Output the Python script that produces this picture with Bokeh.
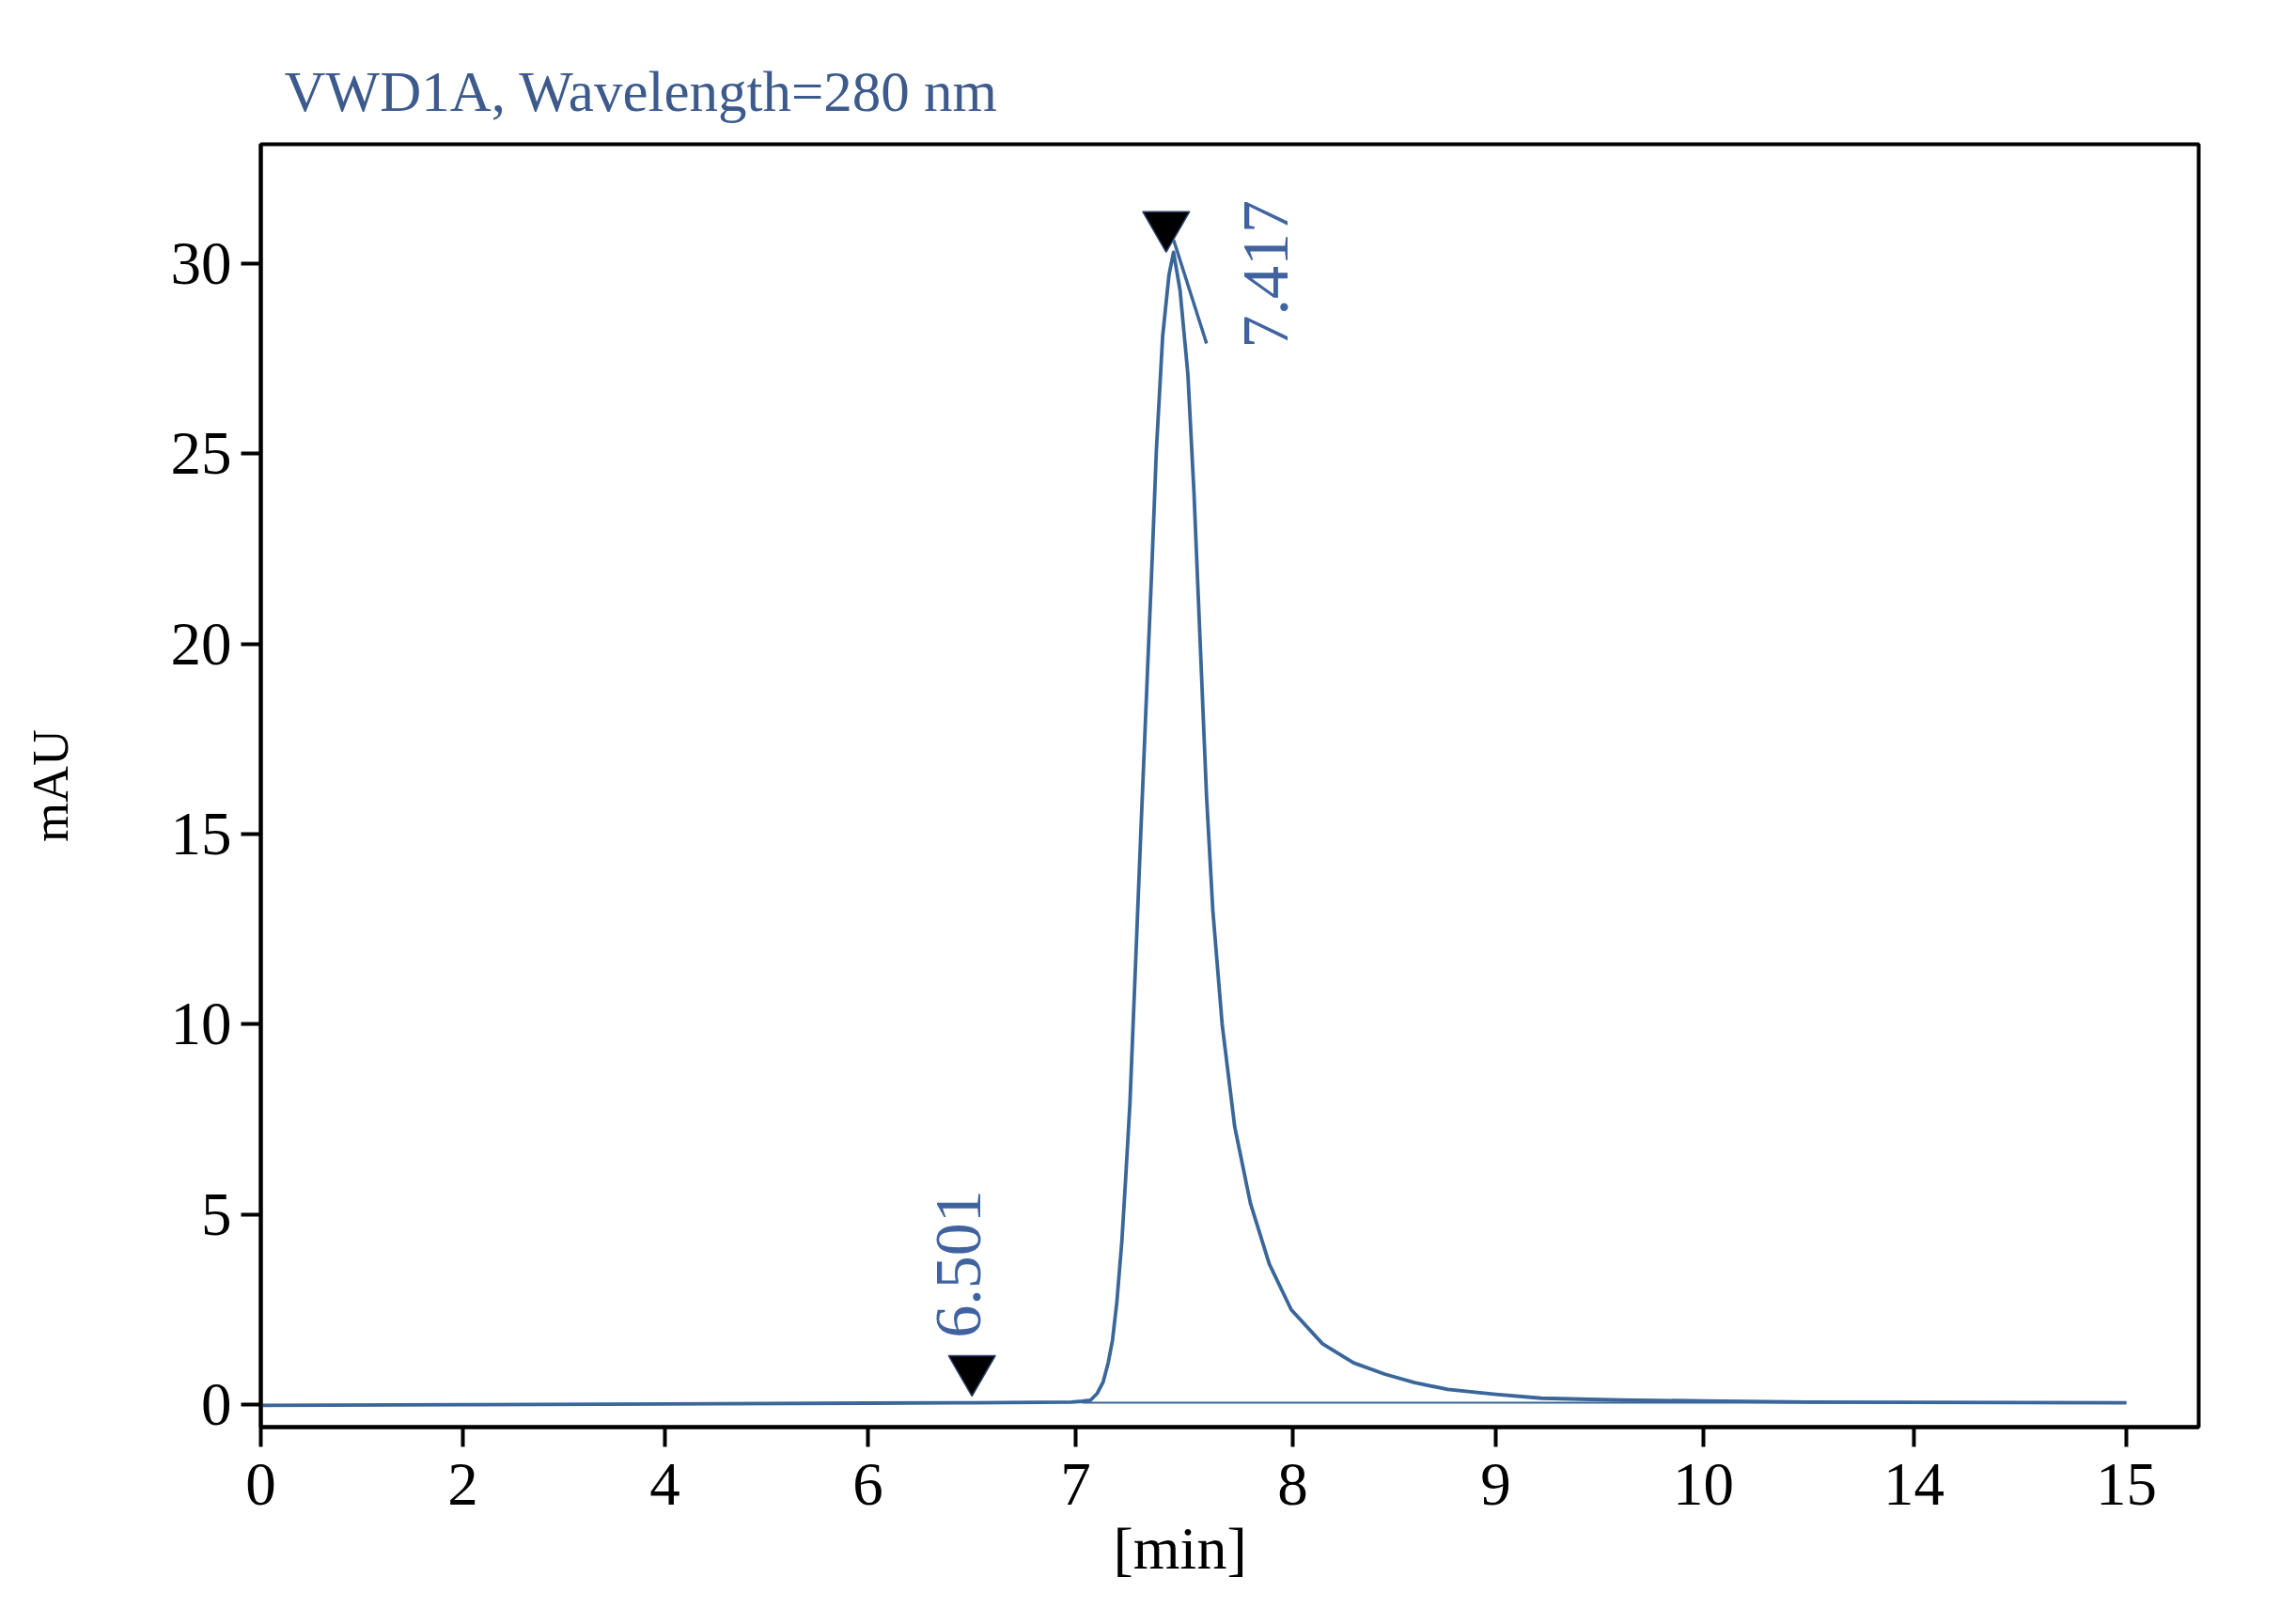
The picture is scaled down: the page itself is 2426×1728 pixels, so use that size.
import numpy as np
from bokeh.plotting import figure
from bokeh.models import FixedTicker, ColumnDataSource, Range1d, Title
from bokeh.core.properties import value
from bokeh.embed import file_html
from bokeh.resources import INLINE

# ---------------- data ----------------
# x-axis tick labels (minutes) - the axis is non-uniform
tick_vals = [0, 2, 4, 6, 7, 8, 9, 10, 14, 15]
# where each tick sits along the axis (axis units)
tick_axis = [0, 215, 430, 646, 867, 1098, 1314, 1535, 1759, 1985]

# chromatogram trace (time in min, signal in mAU)
trace_t = [0.0, 2.0, 4.0, 6.0, 6.5, 6.98, 7.03, 7.069, 7.10, 7.127,
           7.15, 7.170, 7.19, 7.213, 7.23, 7.250, 7.279, 7.300, 7.329, 7.351,
           7.372, 7.401, 7.430, 7.451, 7.481, 7.517, 7.545, 7.574, 7.603, 7.632,
           7.675, 7.733, 7.805, 7.892, 7.993, 8.147, 8.30, 8.455, 8.60, 8.764,
           9.0, 9.22, 9.6, 10.0, 12.0, 14.0, 15.0]
trace_mau = [-0.02, 0.0, 0.02, 0.04, 0.05, 0.07, 0.09, 0.12, 0.3, 0.6,
             1.1, 1.7, 2.7, 4.3, 5.9, 7.9, 12.0, 15.0, 19.0, 22.0,
             25.1, 28.1, 29.7, 30.3, 29.3, 27.1, 24.0, 20.0, 16.0, 13.0,
             10.0, 7.3, 5.3, 3.7, 2.5, 1.6, 1.1, 0.8, 0.58, 0.4,
             0.27, 0.17, 0.12, 0.1, 0.07, 0.06, 0.05]

# integration baseline
base_t = [7.03, 15.0]
base_mau = [0.05, 0.05]

# peak marks
peak_rt = [6.501, 7.417]
peak_top = [0.22, 30.3]
peak_text = ["6.501", "7.417"]

y_ticks = [0, 5, 10, 15, 20, 25, 30]

# ---------------- figure ----------------
W, H = 2426, 1728
ML, MR, MT, MB = 277, 87, 153, 210
frame_w = W - ML - MR
frame_h = H - MT - MB
y_lo, y_hi = -0.59, 33.14
px_per_mau = frame_h / (y_hi - y_lo)

def to_axis(t):
    return np.interp(np.asarray(t, dtype=float), tick_vals, tick_axis)

line_col = "#3a6699"
text_col = "#4063a0"

p = figure(width=W, height=H, output_backend="svg", toolbar_location=None,
           x_range=Range1d(0, frame_w), y_range=Range1d(y_lo, y_hi),
           min_border_left=ML, min_border_right=MR,
           min_border_top=MT, min_border_bottom=MB,
           title="VWD1A, Wavelength=280 nm")
p.background_fill_color = "white"
p.border_fill_color = "white"
p.grid.visible = False
p.outline_line_color = "black"
p.outline_line_width = 4

p.title.align = "left"
p.title.offset = 25
p.title.text_font = "Liberation Serif"
p.title.text_font_size = "61px"
p.title.text_font_style = "normal"
p.title.text_color = "#3d5a8c"
p.title.standoff = 45

for ax in (p.xaxis[0], p.yaxis[0]):
    ax.axis_line_color = "black"
    ax.axis_line_width = 4
    ax.major_tick_line_color = "black"
    ax.major_tick_line_width = 4
    ax.major_tick_out = 21
    ax.major_tick_in = 0
    ax.minor_tick_line_color = None
    ax.major_label_text_font = "Liberation Serif"
    ax.major_label_text_font_size = "65px"
    ax.major_label_text_color = "black"
    ax.axis_label_text_font = "Liberation Serif"
    ax.axis_label_text_font_style = "normal"
    ax.axis_label_text_color = "black"

p.xaxis.ticker = FixedTicker(ticks=tick_axis)
p.xaxis.major_label_overrides = {float(a): str(v) for a, v in zip(tick_axis, tick_vals)}
p.xaxis.major_label_standoff = 18

# x-axis title, placed a little left of the centre as in the original
p.add_layout(Title(text="[min]", align="left", offset=907,
                   text_font="Liberation Serif", text_font_size="64px",
                   text_font_style="normal", text_color="black",
                   standoff=12), "below")

p.yaxis.ticker = FixedTicker(ticks=y_ticks)
p.yaxis.major_label_standoff = 10
p.yaxis.axis_label = "mAU"
p.yaxis.axis_label_text_font_size = "54px"
p.yaxis.axis_label_standoff = 95

# trace and baseline
p.line(to_axis(trace_t), trace_mau, line_color=line_col, line_width=3.8,
       line_join="round")
p.line(to_axis(base_t), base_mau, line_color=line_col, line_width=2)

# peak markers: inverted triangles with apex on the peak top
marker_size = 50
tri_h = marker_size / 2 * np.sqrt(3)
px_axis = to_axis(peak_rt)
mk_y = np.array(peak_top) + (2 * tri_h / 3) / px_per_mau
p.scatter(px_axis, mk_y, marker="inverted_triangle", size=marker_size,
          fill_color="black", line_color="#2e4670", line_width=1.5)

# leader tick on the main peak
i = 1
p.segment(x0=[px_axis[i] + 8], y0=[peak_top[i] + 13 / px_per_mau],
          x1=[px_axis[i] + 43], y1=[peak_top[i] - 97 / px_per_mau],
          line_color=line_col, line_width=3.5)

src = ColumnDataSource(dict(x=px_axis, y=peak_top, text=peak_text,
                            xo=[-14, 106], yo=[-62, 102]))
p.text(x="x", y="y", text="text", source=src, x_offset="xo", y_offset="yo",
       angle=np.pi / 2, text_align="left", text_baseline="alphabetic",
       text_font=value("Liberation Serif"), text_font_size="70px",
       text_color=text_col)

open("out.html", "w").write(file_html(p, INLINE))
